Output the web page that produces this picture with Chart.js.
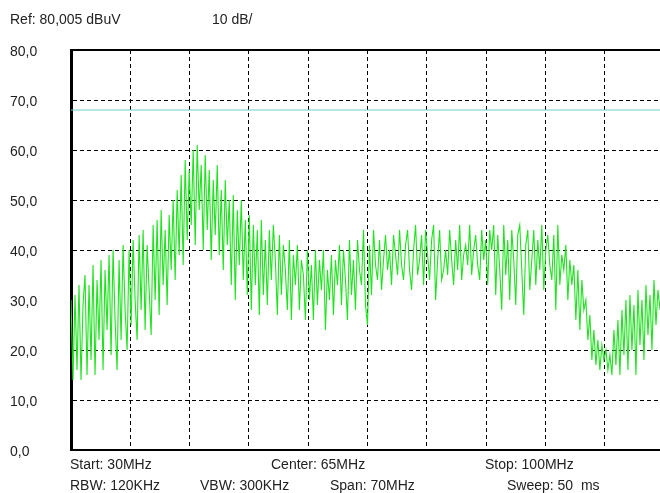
<!DOCTYPE html>
<html>
<head>
<meta charset="utf-8">
<title>Spectrum</title>
<script src="https://cdn.jsdelivr.net/npm/chart.js@4.4.1/dist/chart.umd.min.js"></script>
<style>
    html, body { margin: 0; padding: 0; background: #fff; overflow: hidden; }
    #wrap { position: relative; width: 660px; height: 493px; overflow: hidden; }
    #spectrum { position: absolute; left: 0; top: 0; }
    .txt {
        position: absolute;
        font: 14px "Liberation Sans", Arial, sans-serif;
        line-height: 14px;
        color: #222;
        white-space: pre;
    }
</style>
</head>
<body>
<div id="wrap">
    <canvas id="spectrum" width="668" height="493"></canvas>
    <div class="txt" style="left:10px; top:12px;">Ref: 80,005 dBuV</div>
    <div class="txt" style="left:212px; top:12px;">10 dB/</div>
    <div class="txt" style="left:70px; top:457px;">Start: 30MHz</div>
    <div class="txt" style="left:271px; top:457px;">Center: 65MHz</div>
    <div class="txt" style="left:485px; top:457px;">Stop: 100MHz</div>
    <div class="txt" style="left:70px; top:478px;">RBW: 120KHz</div>
    <div class="txt" style="left:200px; top:478px;">VBW: 300KHz</div>
    <div class="txt" style="left:330px; top:478px;">Span: 70MHz</div>
    <div class="txt" style="left:507px; top:478px;">Sweep: 50  ms</div>
</div>
<script>
    "use strict";

    // Sweep settings
    var startMHz = 30;
    var stopMHz = 100;
    var refLevel = 80;
    var displayLine = 68;

    var levels = [
        30, 14, 31, 16, 33, 14, 29, 35, 15, 33,
        18, 37, 15, 34, 22, 38, 16, 36, 24, 39,
        19, 40, 26, 16, 38, 22, 41, 28, 20, 40,
        25, 42, 30, 22, 43, 28, 44, 24, 41, 32,
        23, 45, 30, 46, 27, 48, 33, 44, 29, 47,
        36, 50, 34, 52, 39, 55, 37, 58, 42, 56,
        45, 60, 41, 61, 48, 57, 40, 59, 44, 56,
        38, 54, 43, 57, 39, 52, 36, 54, 41, 50,
        33, 51, 30, 48, 37, 50, 34, 46, 31, 47,
        28, 45, 33, 44, 27, 46, 31, 42, 29, 44,
        34, 45, 38, 27, 43, 31, 41, 36, 28, 42,
        26, 39, 33, 41, 28, 38, 35, 26, 40, 30,
        37, 26, 40, 29, 38, 32, 40, 24, 36, 30,
        39, 27, 38, 33, 41, 29, 40, 34, 26, 42,
        31, 38, 28, 42, 36, 33, 44, 29, 25, 41,
        31, 44, 37, 34, 42, 32, 38, 43, 36, 40,
        33, 43, 39, 35, 44, 37, 34, 41, 44, 36,
        32, 40, 45, 35, 38, 43, 33, 44, 39, 34,
        42, 45, 30, 38, 44, 34, 36, 40, 35, 44,
        38, 33, 42, 36, 45, 34, 39, 41, 37, 45,
        35, 40, 43, 37, 34, 44, 38, 42, 33, 44,
        40, 45, 31, 43, 36, 28, 45, 35, 42, 30,
        44, 38, 29, 43, 45, 36, 27, 41, 44, 32,
        38, 44, 33, 42, 36, 45, 32, 40, 43, 37,
        34, 43, 28, 45, 33, 39, 36, 41, 30, 38,
        33, 37, 26, 36, 24, 34, 28, 30, 22, 27,
        18, 24, 17, 22, 16, 21, 18, 20, 16, 19,
        15, 24, 17, 26, 15, 28, 19, 30, 16, 31,
        20, 29, 15, 32, 21, 30, 18, 33, 23, 31,
        20, 34, 25, 32, 28, 35, 27
    ];

    // sweep points are evenly spaced between start and stop
    var trace = levels.map(function (v, i) {
        return {x: startMHz + i * (stopMHz - startMHz) / (levels.length - 1), y: v};
    });

    var dashed = function (ctx) {
        var v = ctx.tick ? ctx.tick.value : null;
        return (v === startMHz || v === stopMHz || v === 0 || v === refLevel) ? 'rgba(0,0,0,0)' : '#000';
    };

    var ctx1 = document.getElementById("spectrum").getContext("2d");
    var myChart1 = new Chart(ctx1, {
        type: "line",
        data: {
            datasets: [{
                label: "Trace",
                data: trace,
                borderColor: "rgb(30, 228, 30)",
                borderWidth: 1.1,
                pointRadius: 0,
                tension: 0
            },
            {
                label: "Display line",
                data: [{x: startMHz, y: displayLine}, {x: stopMHz, y: displayLine}],
                borderColor: "rgb(110, 205, 205)",
                borderWidth: 1,
                pointRadius: 0
            }]
        },
        options: {
            responsive: false,
            animation: false,
            events: [],
            layout: {padding: {left: 10, right: 4, top: 50, bottom: 43}},
            plugins: {legend: {display: false}, tooltip: {enabled: false}},
            scales: {
                x: {
                    type: "linear",
                    min: startMHz,
                    max: stopMHz,
                    ticks: {display: false, stepSize: 7},
                    grid: {color: dashed, lineWidth: 1, drawTicks: false},
                    border: {display: true, color: "#000", width: 2, dash: [4, 3]},
                    afterFit: function (s) { s.height = 0; }
                },
                x2: {
                    type: "linear",
                    position: "top",
                    min: startMHz,
                    max: stopMHz,
                    ticks: {display: false},
                    grid: {display: false},
                    border: {display: true, color: "#000", width: 2},
                    afterFit: function (s) { s.height = 0; }
                },
                y: {
                    min: 0,
                    max: refLevel,
                    ticks: {
                        stepSize: 10,
                        color: "#222",
                        font: {family: "'Liberation Sans', Arial, sans-serif", size: 14},
                        crossAlign: "far",
                        labelOffset: 2,
                        padding: 0,
                        callback: function (v) { return v.toFixed(1).replace('.', ','); }
                    },
                    grid: {color: dashed, lineWidth: 1, drawTicks: false},
                    border: {display: true, color: "#000", width: 3, dash: [4, 3]},
                    afterFit: function (s) { s.width = 61; }
                }
            }
        }
    });
</script>
</body>
</html>
